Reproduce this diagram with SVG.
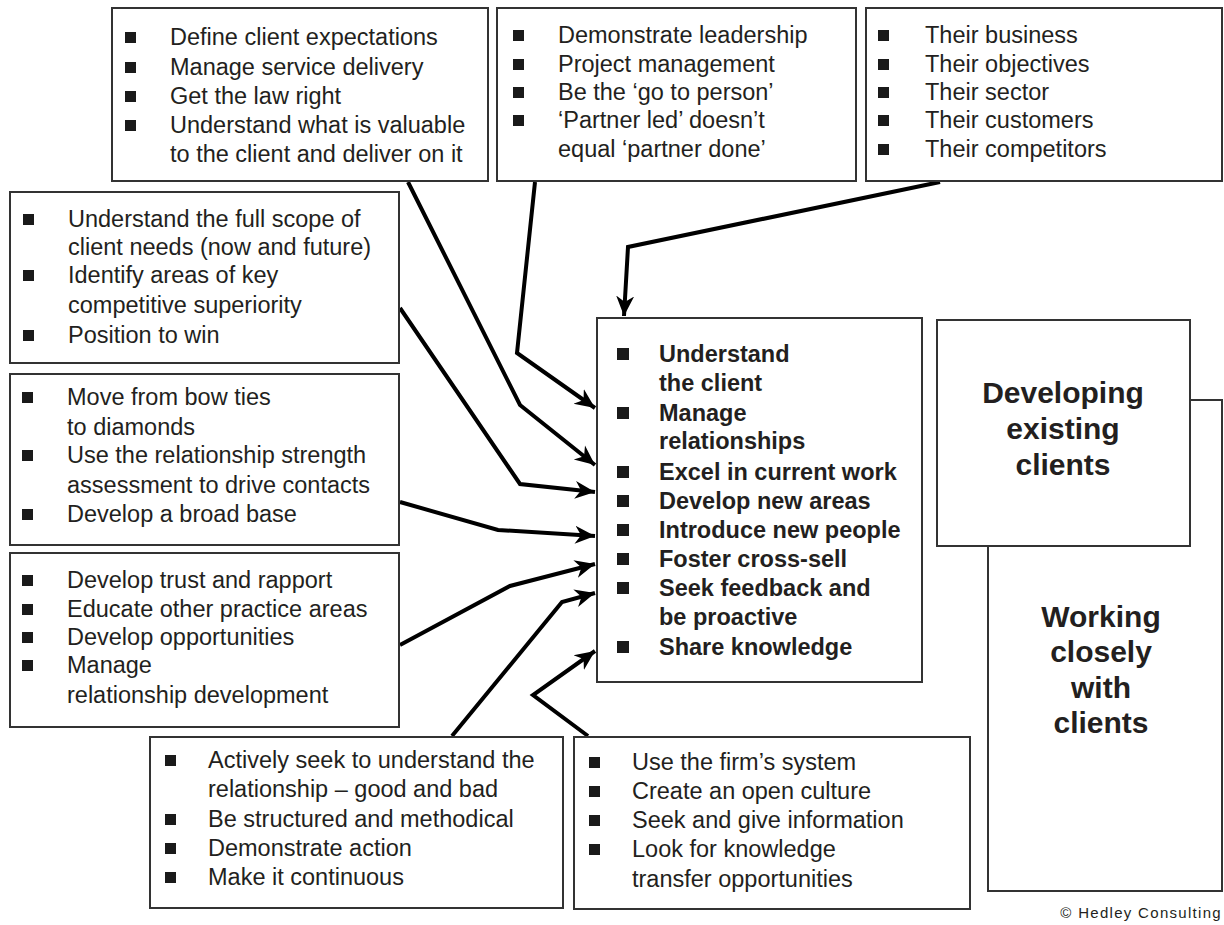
<svg xmlns="http://www.w3.org/2000/svg" width="1224" height="925" viewBox="0 0 1224 925">
<style>
  .box { fill: #ffffff; stroke: #333333; stroke-width: 2; }
  .t { font-family: "Liberation Sans", Arial, sans-serif; font-size: 23.5px; fill: #231f20; }
  .tb { font-family: "Liberation Sans", Arial, sans-serif; font-size: 23.5px; font-weight: bold; fill: #231f20; }
  .big { font-family: "Liberation Sans", Arial, sans-serif; font-size: 30px; font-weight: bold; fill: #231f20; text-anchor: middle; }
  .bul { fill: #1a1a1a; }
  .conn { fill: none; stroke: #000000; stroke-width: 4; stroke-linejoin: miter; marker-end: url(#arr); }
  .copy { font-family: "Liberation Sans", Arial, sans-serif; font-size: 15px; fill: #231f20; text-anchor: end; letter-spacing: 1.3px; }
</style>
<defs>
  <marker id="arr" markerUnits="userSpaceOnUse" markerWidth="22" markerHeight="20" refX="20" refY="10" orient="auto">
    <path d="M0,1 L20,10 L0,19 L6,10 z" fill="#000000"/>
  </marker>
</defs>
<rect width="1224" height="925" fill="#ffffff"/>

<g id="node-working">
  <rect class="box" x="988" y="400" width="234" height="491"/>
  <text class="big" x="1101" y="627">Working</text>
  <text class="big" x="1101" y="662">closely</text>
  <text class="big" x="1101" y="698">with</text>
  <text class="big" x="1101" y="733">clients</text>
</g>
<g id="node-developing">
  <rect class="box" x="937" y="320" width="253" height="226"/>
  <text class="big" x="1063" y="403">Developing</text>
  <text class="big" x="1063" y="439">existing</text>
  <text class="big" x="1063" y="475">clients</text>
</g>

<g id="connectors">
  <polyline class="conn" points="408,182 520,405 595,465"/>
  <polyline class="conn" points="535,182 517,353 595,408"/>
  <polyline class="conn" points="940,182 628,247 624,316"/>
  <polyline class="conn" points="400,308 520,484 595,492"/>
  <polyline class="conn" points="400,502 498,530 595,536"/>
  <polyline class="conn" points="400,645 510,586 595,564"/>
  <polyline class="conn" points="452,736 562,602 595,593"/>
  <polyline class="conn" points="588,736 533,695 595,651"/>
</g>

<g id="node-service">
  <rect class="box" x="112" y="8" width="376" height="173"/>
  <rect class="bul" x="125" y="32" width="11" height="11"/>
  <rect class="bul" x="125" y="62" width="11" height="11"/>
  <rect class="bul" x="125" y="91" width="11" height="11"/>
  <rect class="bul" x="125" y="120" width="11" height="11"/>
  <text class="t" x="170" y="45">Define client expectations</text>
  <text class="t" x="170" y="75">Manage service delivery</text>
  <text class="t" x="170" y="104">Get the law right</text>
  <text class="t" x="170" y="133">Understand what is valuable</text>
  <text class="t" x="170" y="162">to the client and deliver on it</text>
</g>

<g id="node-leadership">
  <rect class="box" x="497" y="8" width="359" height="173"/>
  <rect class="bul" x="513" y="30" width="11" height="11"/>
  <rect class="bul" x="513" y="59" width="11" height="11"/>
  <rect class="bul" x="513" y="87" width="11" height="11"/>
  <rect class="bul" x="513" y="115" width="11" height="11"/>
  <text class="t" x="558" y="43">Demonstrate leadership</text>
  <text class="t" x="558" y="72">Project management</text>
  <text class="t" x="558" y="100">Be the ‘go to person’</text>
  <text class="t" x="558" y="128">‘Partner led’ doesn’t</text>
  <text class="t" x="558" y="157">equal ‘partner done’</text>
</g>

<g id="node-their">
  <rect class="box" x="866" y="8" width="356" height="173"/>
  <rect class="bul" x="878" y="30" width="11" height="11"/>
  <rect class="bul" x="878" y="59" width="11" height="11"/>
  <rect class="bul" x="878" y="87" width="11" height="11"/>
  <rect class="bul" x="878" y="115" width="11" height="11"/>
  <rect class="bul" x="878" y="144" width="11" height="11"/>
  <text class="t" x="925" y="43">Their business</text>
  <text class="t" x="925" y="72">Their objectives</text>
  <text class="t" x="925" y="100">Their sector</text>
  <text class="t" x="925" y="128">Their customers</text>
  <text class="t" x="925" y="157">Their competitors</text>
</g>

<g id="node-scope">
  <rect class="box" x="10" y="192" width="389" height="171"/>
  <rect class="bul" x="23" y="214" width="11" height="11"/>
  <rect class="bul" x="23" y="270" width="11" height="11"/>
  <rect class="bul" x="23" y="330" width="11" height="11"/>
  <text class="t" x="68" y="227">Understand the full scope of</text>
  <text class="t" x="68" y="255">client needs (now and future)</text>
  <text class="t" x="68" y="283">Identify areas of key</text>
  <text class="t" x="68" y="313">competitive superiority</text>
  <text class="t" x="68" y="343">Position to win</text>
</g>

<g id="node-diamonds">
  <rect class="box" x="10" y="374" width="389" height="171"/>
  <rect class="bul" x="22" y="392" width="11" height="11"/>
  <rect class="bul" x="22" y="450" width="11" height="11"/>
  <rect class="bul" x="22" y="509" width="11" height="11"/>
  <text class="t" x="67" y="405">Move from bow ties</text>
  <text class="t" x="67" y="435">to diamonds</text>
  <text class="t" x="67" y="463">Use the relationship strength</text>
  <text class="t" x="67" y="493">assessment to drive contacts</text>
  <text class="t" x="67" y="522">Develop a broad base</text>
</g>

<g id="node-trust">
  <rect class="box" x="10" y="553" width="389" height="174"/>
  <rect class="bul" x="22" y="575" width="11" height="11"/>
  <rect class="bul" x="22" y="604" width="11" height="11"/>
  <rect class="bul" x="22" y="632" width="11" height="11"/>
  <rect class="bul" x="22" y="660" width="11" height="11"/>
  <text class="t" x="67" y="588">Develop trust and rapport</text>
  <text class="t" x="67" y="617">Educate other practice areas</text>
  <text class="t" x="67" y="645">Develop opportunities</text>
  <text class="t" x="67" y="673">Manage</text>
  <text class="t" x="67" y="703">relationship development</text>
</g>

<g id="node-center">
  <rect class="box" x="597" y="318" width="325" height="364"/>
  <rect class="bul" x="617" y="348" width="12" height="12"/>
  <rect class="bul" x="617" y="407" width="12" height="12"/>
  <rect class="bul" x="617" y="466" width="12" height="12"/>
  <rect class="bul" x="617" y="495" width="12" height="12"/>
  <rect class="bul" x="617" y="524" width="12" height="12"/>
  <rect class="bul" x="617" y="553" width="12" height="12"/>
  <rect class="bul" x="617" y="582" width="12" height="12"/>
  <rect class="bul" x="617" y="641" width="12" height="12"/>
  <text class="tb" x="659" y="362">Understand</text>
  <text class="tb" x="659" y="391">the client</text>
  <text class="tb" x="659" y="421">Manage</text>
  <text class="tb" x="659" y="449">relationships</text>
  <text class="tb" x="659" y="480">Excel in current work</text>
  <text class="tb" x="659" y="509">Develop new areas</text>
  <text class="tb" x="659" y="538">Introduce new people</text>
  <text class="tb" x="659" y="567">Foster cross-sell</text>
  <text class="tb" x="659" y="596">Seek feedback and</text>
  <text class="tb" x="659" y="625">be proactive</text>
  <text class="tb" x="659" y="655">Share knowledge</text>
</g>

<g id="node-understand">
  <rect class="box" x="150" y="737" width="413" height="171"/>
  <rect class="bul" x="165" y="755" width="11" height="11"/>
  <rect class="bul" x="165" y="814" width="11" height="11"/>
  <rect class="bul" x="165" y="843" width="11" height="11"/>
  <rect class="bul" x="165" y="872" width="11" height="11"/>
  <text class="t" x="208" y="768">Actively seek to understand the</text>
  <text class="t" x="208" y="797">relationship – good and bad</text>
  <text class="t" x="208" y="827">Be structured and methodical</text>
  <text class="t" x="208" y="856">Demonstrate action</text>
  <text class="t" x="208" y="885">Make it continuous</text>
</g>

<g id="node-knowledge">
  <rect class="box" x="574" y="737" width="396" height="172"/>
  <rect class="bul" x="589" y="757" width="11" height="11"/>
  <rect class="bul" x="589" y="786" width="11" height="11"/>
  <rect class="bul" x="589" y="815" width="11" height="11"/>
  <rect class="bul" x="589" y="844" width="11" height="11"/>
  <text class="t" x="632" y="770">Use the firm’s system</text>
  <text class="t" x="632" y="799">Create an open culture</text>
  <text class="t" x="632" y="828">Seek and give information</text>
  <text class="t" x="632" y="857">Look for knowledge</text>
  <text class="t" x="632" y="887">transfer opportunities</text>
</g>

<text class="copy" x="1222" y="918">© Hedley Consulting</text>
</svg>
